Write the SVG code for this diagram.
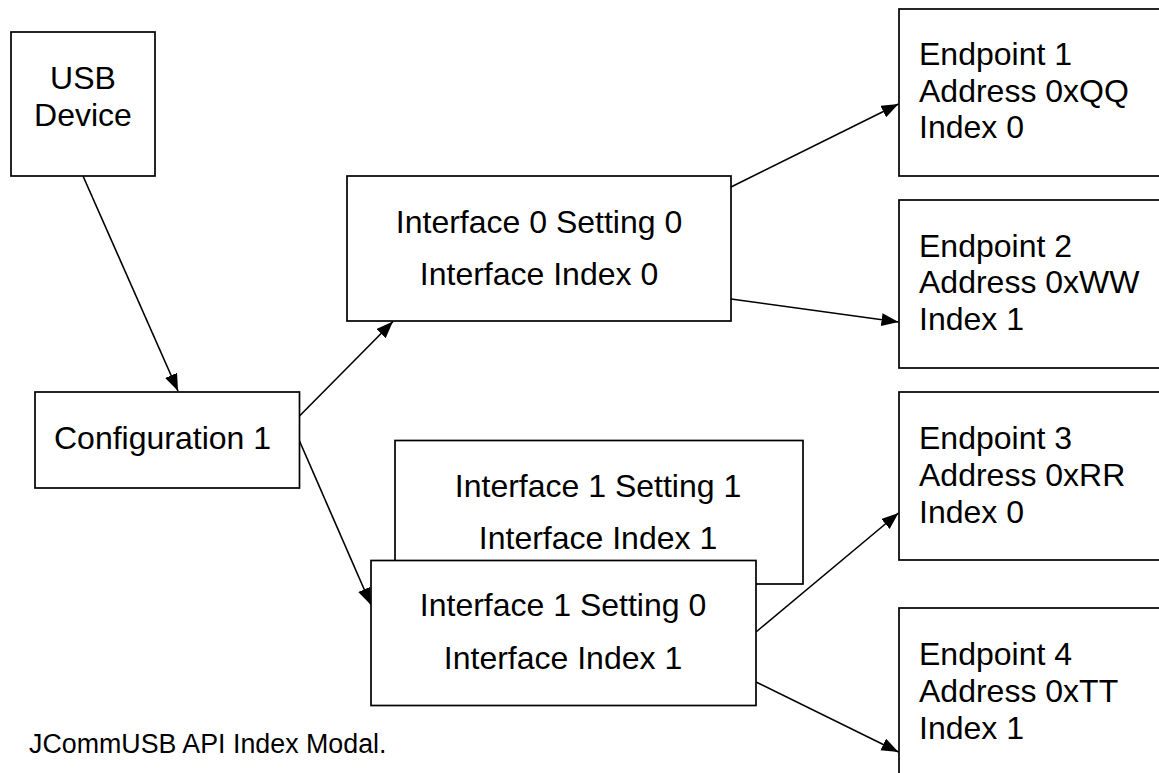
<svg xmlns="http://www.w3.org/2000/svg" width="1159" height="773" viewBox="0 0 1159 773">
  <style>
    .box { fill: #ffffff; stroke: #000000; stroke-width: 1.7; }
    .lbl { font-family: "Liberation Sans", Arial, sans-serif; font-size: 32px; fill: #000000; }
    .mid { text-anchor: middle; }
    .link { stroke: #000000; stroke-width: 1.6; fill: none; marker-end: url(#arrow); }
    .caption { font-family: "Liberation Sans", Arial, sans-serif; font-size: 26.8px; fill: #000000; }
  </style>
  <defs>
    <marker id="arrow" markerUnits="userSpaceOnUse" markerWidth="18" markerHeight="14" refX="17" refY="6.5" orient="auto">
      <path d="M0,0 L17,6.5 L0,13 Z" fill="#000000"/>
    </marker>
  </defs>
  <rect width="1159" height="773" fill="#ffffff"/>

  <!-- connectors -->
  <g id="connectors">
    <line class="link" x1="83" y1="176" x2="178" y2="391"/>
    <line class="link" x1="299.5" y1="416" x2="393" y2="321.5"/>
    <line class="link" x1="299.5" y1="441" x2="371" y2="605"/>
    <line class="link" x1="731" y1="187" x2="898.5" y2="104"/>
    <line class="link" x1="731" y1="299" x2="898.5" y2="322"/>
    <line class="link" x1="756" y1="632" x2="898.5" y2="513"/>
    <line class="link" x1="756" y1="682" x2="898.5" y2="752"/>
  </g>

  <g id="usb-device">
    <rect class="box" x="11" y="32" width="144" height="144"/>
    <text class="lbl mid" x="83" y="89">USB</text>
    <text class="lbl mid" x="83" y="126">Device</text>
  </g>

  <g id="configuration-1">
    <rect class="box" x="35" y="392" width="264.5" height="96"/>
    <text class="lbl" x="54" y="449">Configuration 1</text>
  </g>

  <g id="interface-0-setting-0">
    <rect class="box" x="347" y="176" width="384" height="145"/>
    <text class="lbl mid" x="539" y="233">Interface 0 Setting 0</text>
    <text class="lbl mid" x="539" y="285">Interface Index 0</text>
  </g>

  <g id="interface-1-setting-1">
    <rect class="box" x="395" y="440.5" width="408" height="143.5"/>
    <text class="lbl mid" x="598" y="497">Interface 1 Setting 1</text>
    <text class="lbl mid" x="598" y="549">Interface Index 1</text>
  </g>

  <g id="interface-1-setting-0">
    <rect class="box" x="371" y="560.5" width="385" height="145"/>
    <text class="lbl mid" x="563" y="616">Interface 1 Setting 0</text>
    <text class="lbl mid" x="563" y="669">Interface Index 1</text>
  </g>

  <g id="endpoint-1">
    <rect class="box" x="899" y="9" width="300" height="167"/>
    <text class="lbl" x="919" y="65">Endpoint 1</text>
    <text class="lbl" x="919" y="101.5">Address 0xQQ</text>
    <text class="lbl" x="919" y="138">Index 0</text>
  </g>

  <g id="endpoint-2">
    <rect class="box" x="899" y="200" width="300" height="168"/>
    <text class="lbl" x="919" y="256.5">Endpoint 2</text>
    <text class="lbl" x="919" y="293">Address 0xWW</text>
    <text class="lbl" x="919" y="330">Index 1</text>
  </g>

  <g id="endpoint-3">
    <rect class="box" x="899" y="392" width="300" height="168"/>
    <text class="lbl" x="919" y="448.5">Endpoint 3</text>
    <text class="lbl" x="919" y="486">Address 0xRR</text>
    <text class="lbl" x="919" y="522.5">Index 0</text>
  </g>

  <g id="endpoint-4">
    <rect class="box" x="899" y="608" width="300" height="200"/>
    <text class="lbl" x="919" y="665">Endpoint 4</text>
    <text class="lbl" x="919" y="702">Address 0xTT</text>
    <text class="lbl" x="919" y="738.5">Index 1</text>
  </g>

  <g id="caption">
    <text class="caption" x="29" y="753">JCommUSB API Index Modal.</text>
  </g>
</svg>
